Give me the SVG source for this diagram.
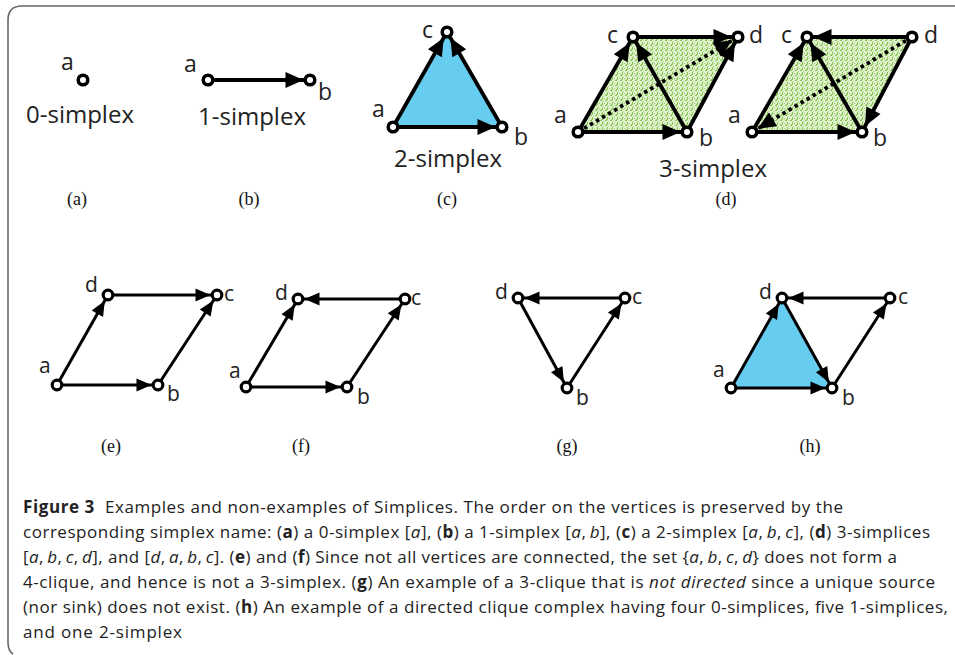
<svg xmlns="http://www.w3.org/2000/svg" width="955" height="655" viewBox="0 0 955 655">
<style>
.n{fill:#fff;stroke:#000;stroke-width:3.5}
.n2{fill:#fff;stroke:#000;stroke-width:3.2}
.e{stroke:#000;stroke-width:3.8;fill:none;marker-end:url(#ah)}
.e2{stroke:#000;stroke-width:3;fill:none;marker-end:url(#ah2)}
.dot{stroke:#000;stroke-width:3.8;fill:none;stroke-dasharray:3.5 3.5;marker-end:url(#ah)}
.lb{font-family:"Open Sans","Noto Sans",sans-serif;font-size:23px;fill:#222}
.lb2{font-family:"Open Sans","Noto Sans",sans-serif;font-size:21px;fill:#222}
.nm{font-family:"Open Sans","Noto Sans",sans-serif;font-size:24px;fill:#222;text-anchor:middle}
.sub{font-family:"Liberation Serif","Times New Roman",serif;font-size:18px;fill:#111;text-anchor:middle}
.cap{font-family:"Open Sans","Noto Sans",sans-serif;font-size:17px;fill:#222}
.blue{fill:#66cdf0}
.green{fill:url(#gp)}
</style>
<defs>
<marker id="ah" markerUnits="userSpaceOnUse" markerWidth="30" markerHeight="20" refX="24.5" refY="8" orient="auto" overflow="visible"><path d="M0,0 L18,8 L0,16 z" fill="#000"/></marker>
<marker id="ah2" markerUnits="userSpaceOnUse" markerWidth="30" markerHeight="20" refX="21.5" refY="6.5" orient="auto" overflow="visible"><path d="M0,0 L15,6.5 L0,13 z" fill="#000"/></marker>
<pattern id="gp" patternUnits="userSpaceOnUse" width="5" height="5">
<rect width="5" height="5" fill="#e2f1d0"/>
<rect x="0" y="0" width="2" height="1" fill="#86c452"/>
<rect x="2" y="2" width="1" height="2" fill="#86c452"/>
<rect x="4" y="3" width="1" height="1" fill="#96cc64"/>
<rect x="1" y="4" width="2" height="1" fill="#96cc64"/>
<rect x="3" y="1" width="1" height="1" fill="#b0d988"/>
</pattern>
</defs>

<path d="M955,6 H22 Q8,6 8,20 V642 Q8,651 13,654" fill="none" stroke="#666" stroke-width="1.6"/>

<!-- fills -->
<polygon class="blue" points="393,127 502,127 447,32"/>
<polygon class="green" points="578,132 687,132 738,37 633,37"/>
<polygon class="green" points="752,132 862,132 912,37 807,37"/>
<polygon class="blue" points="731,388 832,388 782,298"/>

<g id="connectors">
<line class="e" x1="208" y1="80" x2="310" y2="80"/>
<line class="e" x1="393" y1="127" x2="502" y2="127"/>
<line class="e" x1="393" y1="127" x2="447" y2="32"/>
<line class="e" x1="502" y1="127" x2="447" y2="32"/>
<line class="e" x1="578" y1="132" x2="687" y2="132"/>
<line class="e" x1="578" y1="132" x2="633" y2="37"/>
<line class="e" x1="687" y1="132" x2="633" y2="37"/>
<line class="e" x1="633" y1="37" x2="738" y2="37"/>
<line class="e" x1="687" y1="132" x2="738" y2="37"/>
<line class="dot" x1="578" y1="132" x2="738" y2="37"/>
<line class="e" x1="752" y1="132" x2="862" y2="132"/>
<line class="e" x1="752" y1="132" x2="807" y2="37"/>
<line class="e" x1="862" y1="132" x2="807" y2="37"/>
<line class="e" x1="912" y1="37" x2="807" y2="37"/>
<line class="e" x1="912" y1="37" x2="862" y2="132"/>
<line class="dot" x1="912" y1="37" x2="752" y2="132"/>
<line class="e2" x1="57" y1="385" x2="158" y2="385"/>
<line class="e2" x1="57" y1="385" x2="108" y2="295"/>
<line class="e2" x1="108" y1="295" x2="217" y2="295"/>
<line class="e2" x1="158" y1="385" x2="217" y2="295"/>
<line class="e2" x1="246" y1="387" x2="347" y2="387"/>
<line class="e2" x1="246" y1="387" x2="298" y2="299"/>
<line class="e2" x1="405" y1="299" x2="298" y2="299"/>
<line class="e2" x1="347" y1="387" x2="405" y2="299"/>
<line class="e2" x1="625" y1="298" x2="518" y2="298"/>
<line class="e2" x1="518" y1="298" x2="567" y2="388"/>
<line class="e2" x1="567" y1="388" x2="625" y2="298"/>
<line class="e2" x1="731" y1="388" x2="832" y2="388"/>
<line class="e2" x1="731" y1="388" x2="782" y2="298"/>
<line class="e2" x1="782" y1="298" x2="832" y2="388"/>
<line class="e2" x1="890" y1="298" x2="782" y2="298"/>
<line class="e2" x1="832" y1="388" x2="890" y2="298"/>
</g>

<g id="a0"><circle class="n" cx="83" cy="80" r="4.8"/><text class="lb" x="61" y="70">a</text></g>
<g id="b-a"><circle class="n" cx="208" cy="80" r="4.8"/><text class="lb" x="184" y="72">a</text></g>
<g id="b-b"><circle class="n" cx="310" cy="80" r="4.8"/><text class="lb" x="318" y="100">b</text></g>
<g id="c-a"><circle class="n" cx="393" cy="127" r="4.8"/><text class="lb" x="372" y="117">a</text></g>
<g id="c-b"><circle class="n" cx="502" cy="127" r="4.8"/><text class="lb" x="514" y="145">b</text></g>
<g id="c-c"><circle class="n" cx="447" cy="32" r="4.8"/><text class="lb" x="422" y="38">c</text></g>
<g id="d1-a"><circle class="n" cx="578" cy="132" r="4.8"/><text class="lb" x="554" y="123">a</text></g>
<g id="d1-b"><circle class="n" cx="687" cy="132" r="4.8"/><text class="lb" x="699" y="146">b</text></g>
<g id="d1-c"><circle class="n" cx="633" cy="37" r="4.8"/><text class="lb" x="607" y="43">c</text></g>
<g id="d1-d"><circle class="n" cx="738" cy="37" r="4.8"/><text class="lb" x="749" y="43">d</text></g>
<g id="d2-a"><circle class="n" cx="752" cy="132" r="4.8"/><text class="lb" x="728" y="123">a</text></g>
<g id="d2-b"><circle class="n" cx="862" cy="132" r="4.8"/><text class="lb" x="873" y="146">b</text></g>
<g id="d2-c"><circle class="n" cx="807" cy="37" r="4.8"/><text class="lb" x="781" y="43">c</text></g>
<g id="d2-d"><circle class="n" cx="912" cy="37" r="4.8"/><text class="lb" x="924" y="43">d</text></g>
<g id="e-a"><circle class="n2" cx="57" cy="385" r="4.8"/><text class="lb2" x="39" y="373">a</text></g>
<g id="e-b"><circle class="n2" cx="158" cy="385" r="4.8"/><text class="lb2" x="167" y="401">b</text></g>
<g id="e-d"><circle class="n2" cx="108" cy="295" r="4.8"/><text class="lb2" x="85" y="292">d</text></g>
<g id="e-c"><circle class="n2" cx="217" cy="295" r="4.8"/><text class="lb2" x="224" y="301">c</text></g>
<g id="f-a"><circle class="n2" cx="246" cy="387" r="4.8"/><text class="lb2" x="229" y="378">a</text></g>
<g id="f-b"><circle class="n2" cx="347" cy="387" r="4.8"/><text class="lb2" x="357" y="404">b</text></g>
<g id="f-d"><circle class="n2" cx="298" cy="299" r="4.8"/><text class="lb2" x="275" y="300">d</text></g>
<g id="f-c"><circle class="n2" cx="405" cy="299" r="4.8"/><text class="lb2" x="411" y="305">c</text></g>
<g id="g-b"><circle class="n2" cx="567" cy="388" r="4.8"/><text class="lb2" x="576" y="405">b</text></g>
<g id="g-d"><circle class="n2" cx="518" cy="298" r="4.8"/><text class="lb2" x="495" y="299">d</text></g>
<g id="g-c"><circle class="n2" cx="625" cy="298" r="4.8"/><text class="lb2" x="632" y="304">c</text></g>
<g id="h-a"><circle class="n2" cx="731" cy="388" r="4.8"/><text class="lb2" x="713" y="377">a</text></g>
<g id="h-b"><circle class="n2" cx="832" cy="388" r="4.8"/><text class="lb2" x="842" y="405">b</text></g>
<g id="h-d"><circle class="n2" cx="782" cy="298" r="4.8"/><text class="lb2" x="759" y="299">d</text></g>
<g id="h-c"><circle class="n2" cx="890" cy="298" r="4.8"/><text class="lb2" x="898" y="304">c</text></g>

<text class="nm" x="80" y="123">0-simplex</text>
<text class="nm" x="252" y="125">1-simplex</text>
<text class="nm" x="448" y="167">2-simplex</text>
<text class="nm" x="713" y="177">3-simplex</text>

<text class="sub" x="77" y="205">(a)</text>
<text class="sub" x="249" y="205">(b)</text>
<text class="sub" x="447" y="205">(c)</text>
<text class="sub" x="726" y="205">(d)</text>
<text class="sub" x="111" y="452">(e)</text>
<text class="sub" x="301" y="452">(f)</text>
<text class="sub" x="567" y="452">(g)</text>
<text class="sub" x="810" y="452">(h)</text>

<text class="cap" x="23" y="513" textLength="820" lengthAdjust="spacing"><tspan font-weight="bold">Figure 3</tspan>&#160; Examples and non-examples of Simplices. The order on the vertices is preserved by the</text>
<text class="cap" x="23" y="538" textLength="907" lengthAdjust="spacing">corresponding simplex name: (<tspan font-weight="bold">a</tspan>) a 0-simplex [<tspan font-style="italic">a</tspan>], (<tspan font-weight="bold">b</tspan>) a 1-simplex [<tspan font-style="italic">a</tspan>,&#8201;<tspan font-style="italic">b</tspan>], (<tspan font-weight="bold">c</tspan>) a 2-simplex [<tspan font-style="italic">a</tspan>,&#8201;<tspan font-style="italic">b</tspan>,&#8201;<tspan font-style="italic">c</tspan>], (<tspan font-weight="bold">d</tspan>) 3-simplices</text>
<text class="cap" x="23" y="563" textLength="874" lengthAdjust="spacing">[<tspan font-style="italic">a</tspan>,&#8201;<tspan font-style="italic">b</tspan>,&#8201;<tspan font-style="italic">c</tspan>,&#8201;<tspan font-style="italic">d</tspan>], and [<tspan font-style="italic">d</tspan>,&#8201;<tspan font-style="italic">a</tspan>,&#8201;<tspan font-style="italic">b</tspan>,&#8201;<tspan font-style="italic">c</tspan>]. (<tspan font-weight="bold">e</tspan>) and (<tspan font-weight="bold">f</tspan>) Since not all vertices are connected, the set {<tspan font-style="italic">a</tspan>,&#8201;<tspan font-style="italic">b</tspan>,&#8201;<tspan font-style="italic">c</tspan>,&#8201;<tspan font-style="italic">d</tspan>} does not form a</text>
<text class="cap" x="23" y="588" textLength="912" lengthAdjust="spacing">4-clique, and hence is not a 3-simplex. (<tspan font-weight="bold">g</tspan>) An example of a 3-clique that is <tspan font-style="italic">not directed</tspan> since a unique source</text>
<text class="cap" x="23" y="613" textLength="925" lengthAdjust="spacing">(nor sink) does not exist. (<tspan font-weight="bold">h</tspan>) An example of a directed clique complex having four 0-simplices, five 1-simplices,</text>
<text class="cap" x="23" y="638" textLength="159" lengthAdjust="spacing">and one 2-simplex</text>
</svg>
